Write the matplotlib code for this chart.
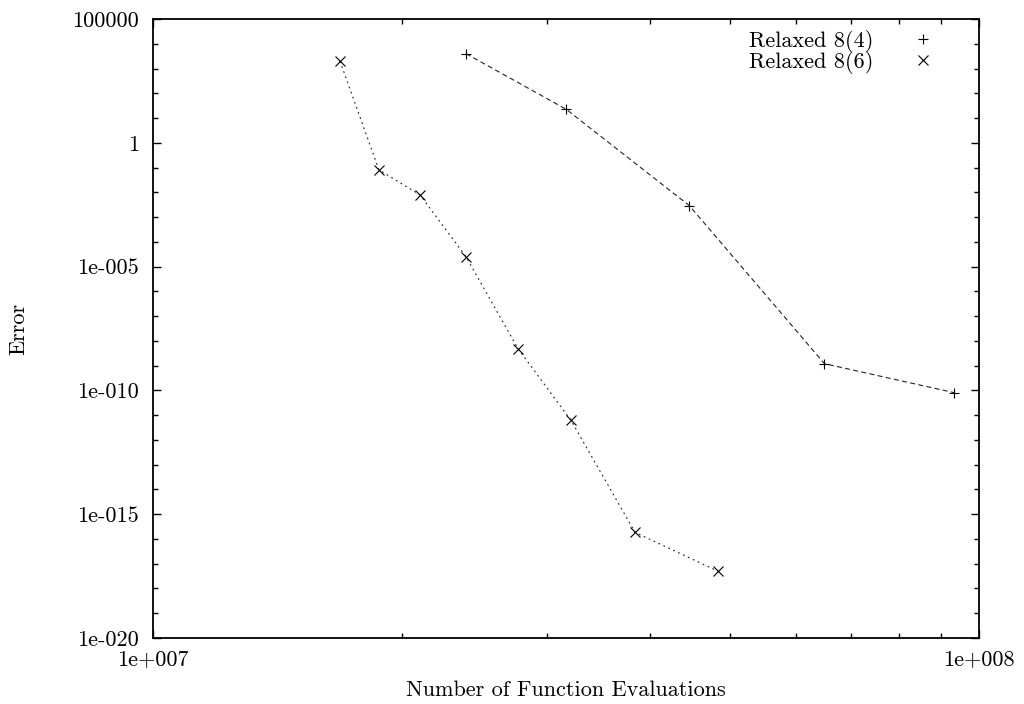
import matplotlib
matplotlib.use("Agg")
import matplotlib.pyplot as plt
from matplotlib.lines import Line2D
from matplotlib.ticker import FixedLocator, FixedFormatter, NullFormatter

# function evaluations vs. error for the two relaxed schemes
evals_84 = [2.393e7, 3.162e7, 4.46e7, 6.50e7, 9.33e7]
error_84 = [3.98e3, 22.9, 2.9e-3, 1.2e-9, 8.1e-11]

evals_86 = [1.684e7, 1.877e7, 2.105e7, 2.393e7, 2.766e7, 3.207e7, 3.833e7, 4.83e7]
error_86 = [2.0e3, 8.1e-2, 7.9e-3, 2.5e-5, 4.9e-9, 6.1e-12, 1.85e-16, 5.0e-18]

x_ticks = [1e7, 1e8]
x_tick_labels = ["1e+007", "1e+008"]
y_ticks = [1e5, 1, 1e-5, 1e-10, 1e-15, 1e-20]
y_tick_labels = ["100000", "1", "1e-005", "1e-010", "1e-015", "1e-020"]

plt.rcParams["font.family"] = ["cmr10", "DejaVu Serif"]
plt.rcParams["font.size"] = 16
plt.rcParams["lines.scale_dashes"] = False

fig = plt.figure(figsize=(10.24, 7.04), dpi=100)
ax = fig.add_axes([153 / 1024, 66 / 704, 826 / 1024, 619 / 704])

ax.plot(evals_84, error_84, color="#222222", lw=0.8, dashes=(3.6, 2.4),
        marker="+", ms=7.5, mew=0.8, mec="black")
ax.plot(evals_86, error_86, color="#222222", lw=0.8, dashes=(1.3, 2.6),
        marker="x", ms=6.5, mew=0.8, mec="black")

ax.set_xscale("log")
ax.set_yscale("log")
ax.set_xlim(1e7, 1e8)
ax.set_ylim(1e-20, 1e5)

ax.xaxis.set_major_locator(FixedLocator(x_ticks))
ax.xaxis.set_major_formatter(FixedFormatter(x_tick_labels))
ax.xaxis.set_minor_locator(FixedLocator([k * 1e7 for k in range(2, 10)]))
ax.xaxis.set_minor_formatter(NullFormatter())
ax.yaxis.set_major_locator(FixedLocator(y_ticks))
ax.yaxis.set_major_formatter(FixedFormatter(y_tick_labels))
ax.yaxis.set_minor_locator(FixedLocator([10.0 ** p for p in range(-20, 6)]))
ax.yaxis.set_minor_formatter(NullFormatter())

ax.tick_params(which="both", direction="in", top=True, right=True, width=1.0, colors="black")
ax.tick_params(which="major", length=6, labelsize=16)
ax.tick_params(which="minor", length=3.5)
ax.tick_params(axis="y", which="major", pad=10)
ax.tick_params(axis="x", which="major", pad=8)
for side in ax.spines.values():
    side.set_linewidth(1.3)

ax.set_xlabel("Number of Function Evaluations", va="center")
ax.set_ylabel("Error", va="center")
ax.xaxis.set_label_coords(0.5, -0.084)
ax.yaxis.set_label_coords(-0.163, 0.5)

handles = [
    Line2D([], [], ls="none", marker="+", ms=7.5, mew=0.8, color="black"),
    Line2D([], [], ls="none", marker="x", ms=6.5, mew=0.8, color="black"),
]
ax.legend(handles, ["Relaxed 8(4)", "Relaxed 8(6)"], loc="upper right",
          markerfirst=False, frameon=False, handlelength=2.0,
          handletextpad=1.25, labelspacing=-0.1, borderaxespad=0.0,
          bbox_to_anchor=(0.970, 0.997))

fig.savefig("out.png", dpi=100)
